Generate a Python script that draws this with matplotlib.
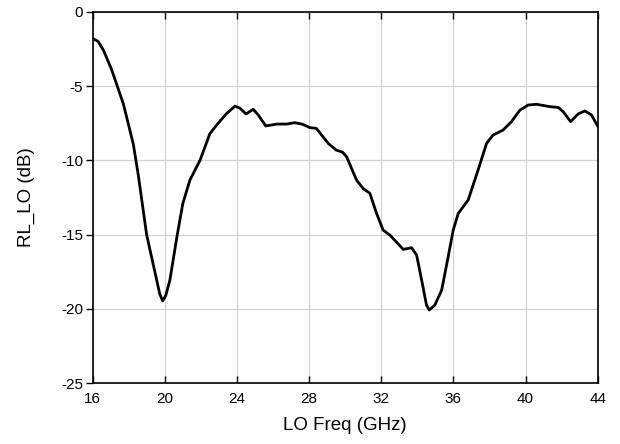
import matplotlib
matplotlib.use("Agg")
import matplotlib.pyplot as plt

plt.rcParams['font.family'] = ['Liberation Sans', 'DejaVu Sans']
plt.rcParams['axes.unicode_minus'] = False

# LO return loss
freq = [16.0, 16.3, 16.6, 17.05, 17.7, 18.25, 18.53, 18.99, 19.55, 19.72,
        19.88, 20.05, 20.28, 20.69, 21.0, 21.39, 21.95, 22.5, 22.96, 23.43,
        23.89, 24.17, 24.5, 24.9, 25.18, 25.6, 26.2, 26.75, 27.2, 27.6,
        28.05, 28.4, 29.06, 29.5, 29.85, 30.08, 30.63, 31.0, 31.37, 31.74,
        32.1, 32.48, 33.22, 33.68, 33.96, 34.24, 34.51, 34.66, 34.97, 35.35,
        35.71, 35.99, 36.27, 36.82, 37.37, 37.84, 38.2, 38.76, 39.22, 39.69,
        40.15, 40.61, 41.35, 41.81, 42.09, 42.5, 42.92, 43.29, 43.66, 44.0]
rl_lo = [-1.8, -2.0, -2.6, -3.9, -6.2, -8.9, -11.0, -15.0, -18.06, -19.0,
         -19.45, -19.1, -18.06, -15.0, -12.9, -11.33, -10.0, -8.2, -7.5, -6.85,
         -6.35, -6.5, -6.88, -6.57, -6.95, -7.69, -7.56, -7.56, -7.47, -7.56,
         -7.8, -7.85, -8.86, -9.31, -9.45, -9.76, -11.33, -11.9, -12.22, -13.57,
         -14.69, -15.03, -15.99, -15.88, -16.37, -18.06, -19.74, -20.07, -19.74, -18.73,
         -16.49, -14.69, -13.57, -12.67, -10.65, -8.86, -8.3, -7.96, -7.4, -6.62,
         -6.28, -6.23, -6.39, -6.44, -6.73, -7.4, -6.88, -6.68, -6.95, -7.7]

xticks = [16, 20, 24, 28, 32, 36, 40, 44]
yticks = [0, -5, -10, -15, -20, -25]

fig = plt.figure(figsize=(6.2, 4.44), dpi=100)
ax = fig.add_axes([0.1495, 0.1367, 0.8145, 0.837])

ax.plot(freq, rl_lo, color='black', linewidth=2.0, solid_joinstyle='round')

ax.set_xlim(16, 44)
ax.set_ylim(-25, 0)
ax.set_xticks(xticks)
ax.set_yticks(yticks)
ax.grid(True, color='#d2d2d2', linewidth=0.9)
ax.set_axisbelow(True)

ax.tick_params(axis='x', direction='in', top=True, length=5, width=1, labelsize=11, pad=6)
ax.tick_params(axis='y', direction='out', length=5, width=1, labelsize=11, pad=2)
for s in ax.spines.values():
    s.set_linewidth(1.2)

ax.set_xlabel("LO Freq (GHz)", fontsize=13.5, labelpad=8)
ax.set_ylabel("RL_LO (dB)", fontsize=13.5, labelpad=19)

plt.savefig("out.png", dpi=100)
